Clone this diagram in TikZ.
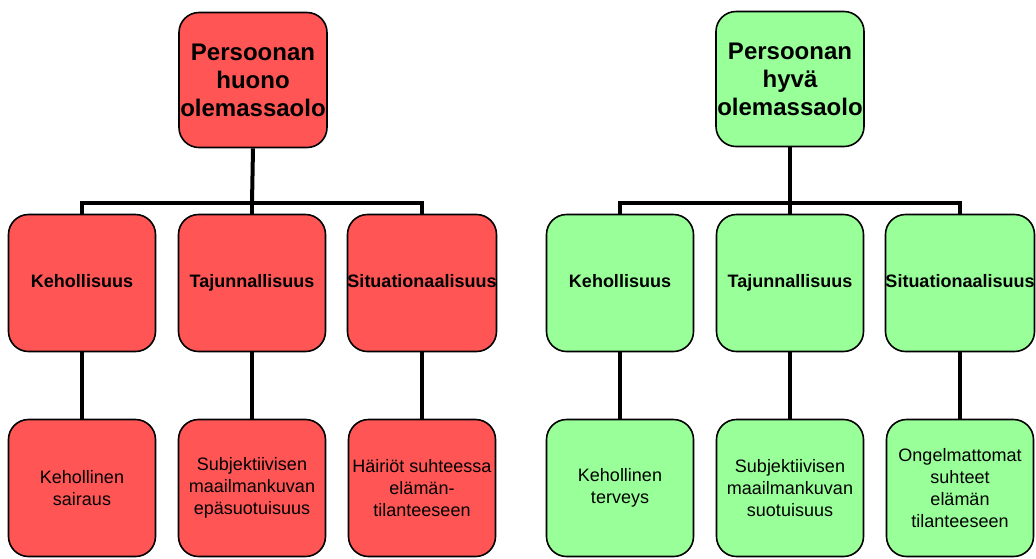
\documentclass[tikz,border=0pt]{standalone}
\usepackage{fontspec}
\setmainfont{Liberation Sans}
\begin{document}
\begin{tikzpicture}[x=1pt,y=-1pt,
  box/.style={draw=black, line width=1.6pt, rounded corners=20pt,
    minimum width=147pt, minimum height=137pt, inner sep=0pt, align=center},
  topbox/.style={box, minimum width=148pt, minimum height=135pt,
    font=\bfseries\fontsize{24}{28}\selectfont},
  midbox/.style={box, text height=13pt, text depth=4pt,
    font=\bfseries\fontsize{18}{21}\selectfont},
  lowbox/.style={box, font=\fontsize{18}{22}\selectfont},
  bad/.style={fill=badred},
  good/.style={fill=goodgreen},
  conn/.style={draw=black, line width=4pt, line join=miter}]
\definecolor{badred}{HTML}{FF5555}
\definecolor{goodgreen}{HTML}{99FF99}
\useasboundingbox (0,0) rectangle (1036,558);

% left tree: poor being
\node[topbox,bad] (ltop) at (253,80) {Persoonan\\huono\\olemassaolo};
\node[midbox,bad] (lk) at (82,283) {Kehollisuus};
\node[midbox,bad] (lt) at (252,283) {Tajunnallisuus};
\node[midbox,bad] (ls) at (422,283) {Situationaalisuus};
\node[lowbox,bad] (lk2) at (82,488) {Kehollinen\\sairaus};
\node[lowbox,bad] (lt2) at (252,488) {Subjektiivisen\\maailmankuvan\\epäsuotuisuus};
\node[lowbox,bad] (ls2) at (422,488) {Häiriöt suhteessa\\elämän-\\tilanteeseen};
\coordinate (lbus) at (252,203);

% right tree: good being
\node[topbox,good] (rtop) at (790,79) {Persoonan\\hyvä\\olemassaolo};
\node[midbox,good] (rk) at (620,283) {Kehollisuus};
\node[midbox,good] (rt) at (790,283) {Tajunnallisuus};
\node[midbox,good] (rs) at (960,283) {Situationaalisuus};
\node[lowbox,good] (rk2) at (620,488) {Kehollinen\\terveys};
\node[lowbox,good] (rt2) at (790,488) {Subjektiivisen\\maailmankuvan\\suotuisuus};
\node[lowbox,good] (rs2) at (960,488) {Ongelmattomat\\suhteet\\elämän\\tilanteeseen};
\coordinate (rbus) at (790,203);

% connectors
\draw[conn] (ltop.south) -- (lbus);
\draw[conn] (lk.north) |- (lbus) -| (ls.north);
\draw[conn] (lt.north) -- (lbus);
\draw[conn] (lk.south) -- (lk2.north);
\draw[conn] (lt.south) -- (lt2.north);
\draw[conn] (ls.south) -- (ls2.north);

\draw[conn] (rtop.south) -- (rbus);
\draw[conn] (rk.north) |- (rbus) -| (rs.north);
\draw[conn] (rt.north) -- (rbus);
\draw[conn] (rk.south) -- (rk2.north);
\draw[conn] (rt.south) -- (rt2.north);
\draw[conn] (rs.south) -- (rs2.north);
\end{tikzpicture}
\end{document}
